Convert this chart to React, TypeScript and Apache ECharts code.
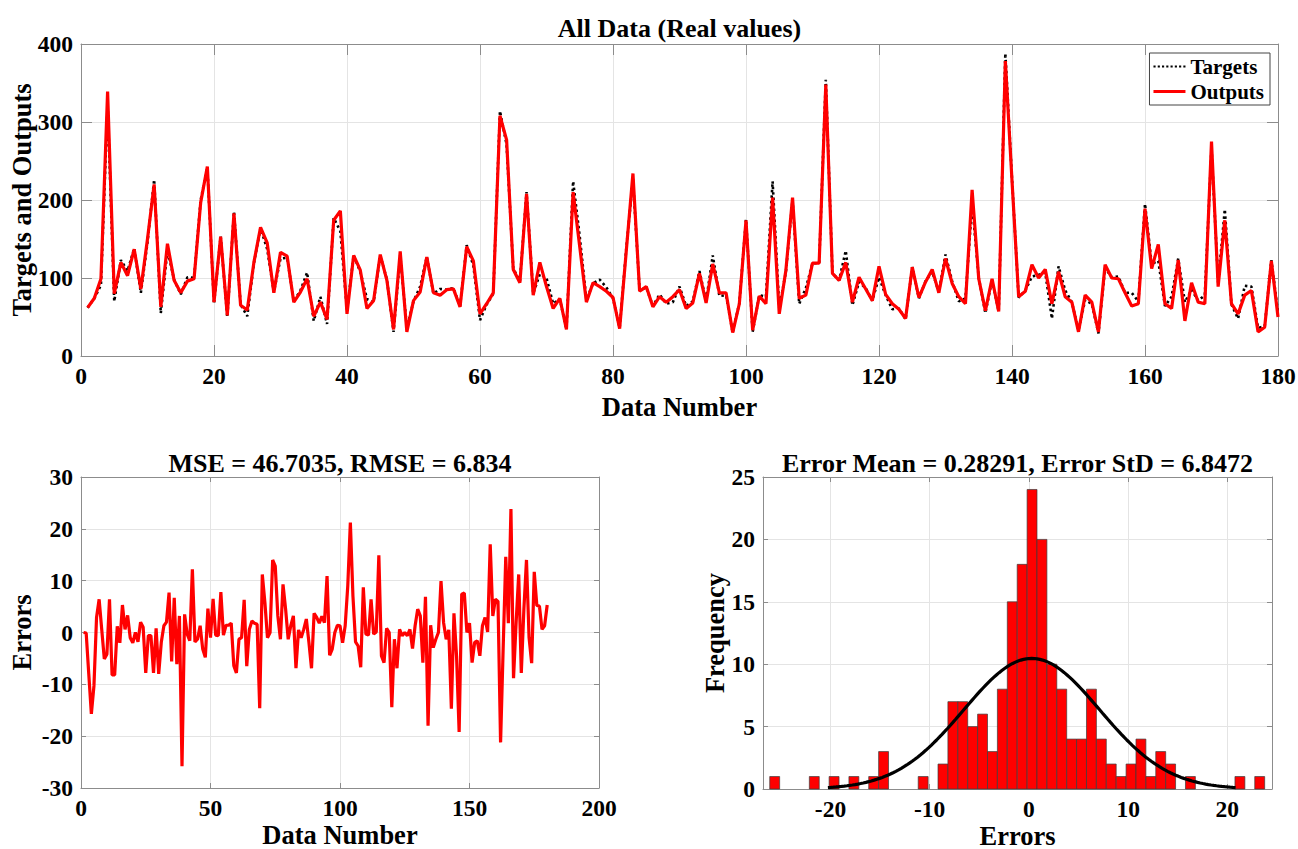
import React, { useEffect, useRef } from "react";
import * as echarts from "echarts";

// ---------- data ----------
const OUTPUTS = [
  62, 74, 99, 339, 80, 120, 103, 137, 86, 150,
  220, 63, 144, 97, 81, 96, 99, 197, 243, 69,
  153, 52, 183, 65, 59, 120, 165, 145, 81, 133,
  128, 69, 82, 99, 51, 69, 47, 174, 186, 54,
  129, 110, 61, 71, 130, 97, 34, 134, 31, 71,
  82, 127, 81, 78, 85, 86, 63, 140, 122, 54,
  67, 81, 308, 277, 111, 94, 208, 78, 120, 89,
  61, 74, 34, 210, 140, 69, 94, 89, 83, 75,
  35, 135, 234, 83, 89, 63, 76, 69, 76, 85,
  61, 68, 106, 68, 118, 81, 81, 30, 67, 174,
  33, 77, 67, 203, 54, 110, 203, 74, 78, 119,
  119, 348, 106, 97, 120, 69, 101, 86, 71, 115,
  79, 67, 60, 48, 114, 75, 95, 111, 81, 125,
  93, 76, 67, 213, 99, 58, 99, 57, 378, 225,
  76, 83, 117, 100, 111, 67, 108, 76, 69, 31,
  78, 69, 31, 117, 100, 99, 81, 64, 67, 189,
  112, 143, 67, 61, 123, 45, 94, 69, 67, 275,
  89, 174, 67, 54, 78, 84, 31, 37, 122, 50,
];

const TARGETS = [
  62, 74, 91, 323, 70, 123, 109, 138, 81, 146,
  226, 55, 136, 98, 79, 101, 100, 200, 242, 67,
  153, 50, 185, 66, 51, 119, 164, 137, 82, 125,
  126, 70, 84, 107, 45, 76, 41, 177, 160, 58,
  129, 108, 73, 69, 129, 98, 31, 129, 36, 70,
  89, 127, 80, 86, 85, 87, 64, 142, 116, 46,
  66, 80, 314, 271, 112, 96, 210, 80, 105, 100,
  67, 73, 34, 224, 153, 72, 93, 98, 88, 74,
  36, 138, 227, 84, 88, 64, 79, 67, 69, 89,
  64, 70, 109, 70, 129, 77, 78, 30, 68, 175,
  31, 78, 76, 224, 61, 108, 200, 67, 87, 119,
  119, 354, 106, 97, 135, 65, 95, 87, 71, 101,
  78, 60, 61, 47, 114, 74, 96, 108, 82, 130,
  96, 70, 74, 195, 100, 55, 98, 57, 388, 227,
  75, 84, 102, 104, 107, 48, 115, 84, 69, 33,
  72, 67, 29, 113, 101, 102, 81, 81, 70, 195,
  118, 122, 64, 76, 125, 69, 85, 71, 78, 267,
  94, 188, 66, 48, 90, 89, 36, 38, 123, 55,
];

const ERRORS = [
  0, -0.1, -8, -15.7, -10.3, 2.9, 6.4, 0.6, -5.1, -4.2,
  6.4, -8.2, -8.2, 1.2, -2, 5.3, 0.6, 3.3, -1, -2,
  0, -1.8, 2, 1, -7.8, -0.6, -0.6, -7.8, 0.8, -8,
  -1.9, 1.3, 2, 7.7, -5.6, 6.7, -6.1, 3.2, -25.8, 3.5,
  -0.3, -1.6, 12.2, -1.8, -1.3, 1.3, -3.2, -4.8, 4.6, -1,
  6.5, -0.5, -0.6, 7.8, -0.5, 1.4, 1.4, 1.8, -6.4, -7.8,
  -1.3, -1, 6.3, -6.5, 0.6, 2.2, 1.8, 1.6, -14.6, 11.2,
  5.8, -1, 0, 14, 12.8, 3.2, -1.3, 9.3, 4.5, -1.3,
  1.3, 3.2, -6.9, 0.5, -1, 0.6, 2.6, -1.9, -6.9, 3.7,
  2.9, 1.8, 3.1, 1.9, 10.9, -4.4, -3.2, 0, 1.4, 1.3,
  -2, 1.3, 9, 21.2, 7, -1.8, -2.6, -6.7, 8.7, -0.3,
  -0.5, 6.4, -0.3, 0.1, 14.9, -4.5, -5.8, 0.8, 0, -14.4,
  -1.3, -6.9, 0.6, -0.6, 0, -0.6, 0.6, -3.1, 1.3, 4.5,
  3.2, -5.8, 6.9, -18, 1.4, -2.9, -1.3, 0, 9.9, 1.9,
  -1.3, 0.5, -14.7, 3.7, -4.5, -19.2, 7.4, 7.6, 0, 1.8,
  -5.8, -1.9, -1.6, -4.5, 1.3, 2.9, 0.1, 17, 3.2, 6.4,
  6, -21.2, -3, 14.6, 1.8, 23.8, -8.8, 1.9, 11.2, -7.8,
  4.5, 14, -1, -5.9, 11.7, 5.2, 5.1, 0.6, 1.3, 5.3,
];

// histogram: 50 bins
const HIST_COUNTS = [
  1, 0, 0, 0, 1, 0, 1, 0, 1, 0,
  1, 3, 0, 0, 0, 1, 0, 2, 7, 7,
  5, 6, 3, 8, 15, 18, 24, 20, 10, 8,
  4, 4, 8, 4, 2, 1, 2, 4, 1, 3,
  2, 0, 1, 0, 0, 0, 0, 1, 0, 1,
];
const HIST_MIN = -26.12;
const BIN_WIDTH = 0.9976;
const ERR_MEAN = 0.28291;
const ERR_STD = 6.8472;

const HIST_X_TICKS = [-20, -10, 0, 10, 20];

const TITLE_TOP = "All Data (Real values)";
const TITLE_LEFT = "MSE = 46.7035, RMSE = 6.834";
const TITLE_RIGHT = "Error Mean = 0.28291, Error StD = 6.8472";

// ---------- styling ----------
const FONT = '"Liberation Serif", "Times New Roman", serif';
const AXIS_COLOR = "#8c8c8c";
const GRID_COLOR = "#e4e4e4";
const LABEL_COLOR = "#000000";
const TICK_FONT = 23.5;
const NAME_FONT = 26.5;
const TITLE_FONT = 26;

const G0 = { left: 81, top: 44, width: 1197, height: 312 };
const G1 = { left: 81, top: 477, width: 518, height: 311 };
const G2 = { left: 763, top: 477, width: 509, height: 312 };

const DOT_ICON =
  "path://M0,0h2v2h-2z M4,0h2v2h-2z M8,0h2v2h-2z M12,0h2v2h-2z M16,0h2v2h-2z M20,0h2v2h-2z M24,0h2v2h-2z M28,0h2v2h-2z";

function mainAxis(grid: number, pos: string, min: number, max: number, opts: any) {
  return {
    type: "value",
    gridIndex: grid,
    position: pos,
    min,
    max,
    interval: opts.interval,
    name: opts.name,
    nameLocation: "middle",
    nameGap: opts.nameGap,
    nameMoveOverlap: false,
    nameTextStyle: {
      fontFamily: FONT,
      fontWeight: "bold",
      fontSize: NAME_FONT,
      color: LABEL_COLOR,
    },
    axisLine: { show: true, onZero: false, lineStyle: { color: AXIS_COLOR, width: 1 } },
    axisTick: {
      show: true,
      inside: true,
      length: opts.tickLen,
      lineStyle: { color: AXIS_COLOR },
      customValues: opts.custom,
    },
    axisLabel: {
      show: true,
      fontFamily: FONT,
      fontWeight: "bold",
      fontSize: TICK_FONT,
      color: LABEL_COLOR,
      margin: 8,
      customValues: opts.custom,
    },
    splitLine: { show: true, lineStyle: { color: GRID_COLOR, width: 1 } },
  };
}

function mirrorAxis(grid: number, pos: string, min: number, max: number, opts: any) {
  return {
    type: "value",
    gridIndex: grid,
    position: pos,
    min,
    max,
    interval: opts.interval,
    axisLine: { show: true, onZero: false, lineStyle: { color: AXIS_COLOR, width: 1 } },
    axisTick: {
      show: true,
      inside: true,
      length: opts.tickLen,
      lineStyle: { color: AXIS_COLOR },
      customValues: opts.custom,
    },
    axisLabel: { show: false, customValues: opts.custom },
    splitLine: { show: false },
  };
}

export default function App() {
  const ref = useRef<HTMLDivElement>(null);

  useEffect(() => {
    document.body.style.margin = "0";
    if (!ref.current) return;
    const chart = echarts.init(ref.current, undefined, { renderer: "svg" });

    const n = ERRORS.length;
    const scale = (n * BIN_WIDTH) / (ERR_STD * Math.sqrt(2 * Math.PI));
    const gauss: number[][] = [];
    const lo = ERR_MEAN - 3 * ERR_STD;
    const steps = 150;
    for (let k = 0; k <= steps; k++) {
      const x = lo + (k * 6 * ERR_STD) / steps;
      const z = (x - ERR_MEAN) / ERR_STD;
      gauss.push([x, scale * Math.exp(-0.5 * z * z)]);
    }

    const titleText = (text: string, x: number, y: number) => ({
      type: "text",
      x,
      y,
      style: {
        text,
        fontFamily: FONT,
        fontWeight: "bold",
        fontSize: TITLE_FONT,
        fill: LABEL_COLOR,
        align: "center",
        verticalAlign: "middle",
      },
    });

    const gridBase = { containLabel: false, outerBoundsMode: "none" };

    const option: any = {
      animation: false,
      backgroundColor: "#ffffff",
      grid: [
        { ...G0, ...gridBase },
        { ...G1, ...gridBase },
        { ...G2, ...gridBase },
      ],
      graphic: [
        titleText(TITLE_TOP, G0.left + G0.width / 2, 28),
        titleText(TITLE_LEFT, G1.left + G1.width / 2, 463),
        titleText(TITLE_RIGHT, G2.left + G2.width / 2, 463),
      ],
      legend: {
        data: [
          { name: "Targets", icon: DOT_ICON, itemStyle: { color: "#000000" } },
          { name: "Outputs", icon: "rect", itemStyle: { color: "#ff0000" } },
        ],
        orient: "vertical",
        right: 28,
        top: 53,
        backgroundColor: "#ffffff",
        borderColor: "#444444",
        borderWidth: 1,
        borderRadius: 0,
        padding: [3, 6, 3, 4],
        itemGap: 4,
        itemWidth: 32,
        itemHeight: 3,
        textStyle: {
          fontFamily: FONT,
          fontWeight: "bold",
          fontSize: 21,
          color: LABEL_COLOR,
        },
      },
      xAxis: [
        mainAxis(0, "bottom", 0, 180, { interval: 20, name: "Data Number", nameGap: 37, tickLen: 11 }),
        mirrorAxis(0, "top", 0, 180, { interval: 20, tickLen: 11 }),
        mainAxis(1, "bottom", 0, 200, { interval: 50, name: "Data Number", nameGap: 33, tickLen: 5 }),
        mirrorAxis(1, "top", 0, 200, { interval: 50, tickLen: 5 }),
        mainAxis(2, "bottom", -26.8, 24.5, { custom: HIST_X_TICKS, name: "Errors", nameGap: 33, tickLen: 5 }),
        mirrorAxis(2, "top", -26.8, 24.5, { custom: HIST_X_TICKS, tickLen: 5 }),
      ],
      yAxis: [
        mainAxis(0, "left", 0, 400, { interval: 100, name: "Targets and Outputs", nameGap: 46, tickLen: 11 }),
        mirrorAxis(0, "right", 0, 400, { interval: 100, tickLen: 11 }),
        mainAxis(1, "left", -30, 30, { interval: 10, name: "Errors", nameGap: 46, tickLen: 5 }),
        mirrorAxis(1, "right", -30, 30, { interval: 10, tickLen: 5 }),
        mainAxis(2, "left", 0, 25, { interval: 5, name: "Frequency", nameGap: 35, tickLen: 5 }),
        mirrorAxis(2, "right", 0, 25, { interval: 5, tickLen: 5 }),
      ],
      series: [
        {
          name: "Targets",
          type: "line",
          xAxisIndex: 0,
          yAxisIndex: 0,
          symbol: "none",
          data: TARGETS.map((v, i) => [i + 1, v]),
          lineStyle: { color: "#000000", width: 2.6, type: [2.5, 3] },
          itemStyle: { color: "#000000" },
          z: 2,
        },
        {
          name: "Outputs",
          type: "line",
          xAxisIndex: 0,
          yAxisIndex: 0,
          symbol: "none",
          data: OUTPUTS.map((v, i) => [i + 1, v]),
          lineStyle: { color: "#ff0000", width: 3.2 },
          itemStyle: { color: "#ff0000" },
          z: 3,
        },
        {
          name: "Errors",
          type: "line",
          xAxisIndex: 2,
          yAxisIndex: 2,
          symbol: "none",
          data: ERRORS.map((v, i) => [i + 1, v]),
          lineStyle: { color: "#ff0000", width: 3.2 },
          itemStyle: { color: "#ff0000" },
        },
        {
          name: "Histogram",
          type: "custom",
          xAxisIndex: 4,
          yAxisIndex: 4,
          data: HIST_COUNTS.map((c, k) => [HIST_MIN + k * BIN_WIDTH, HIST_MIN + (k + 1) * BIN_WIDTH, c]),
          encode: { x: [0, 1], y: 2 },
          renderItem: (params: any, api: any) => {
            const c = api.value(2);
            if (!c) return null;
            const p0 = api.coord([api.value(0), c]);
            const p1 = api.coord([api.value(1), 0]);
            return {
              type: "rect",
              shape: { x: p0[0], y: p0[1], width: p1[0] - p0[0], height: p1[1] - p0[1] },
              style: { fill: "#ff0000", stroke: "#3c3c3c", lineWidth: 0.7 },
            };
          },
          z: 2,
        },
        {
          name: "Normal",
          type: "line",
          xAxisIndex: 4,
          yAxisIndex: 4,
          symbol: "none",
          data: gauss,
          lineStyle: { color: "#000000", width: 3.2 },
          itemStyle: { color: "#000000" },
          z: 4,
        },
      ],
    };

    chart.setOption(option);
    return () => {
      chart.dispose();
    };
  }, []);

  return <div ref={ref} style={{ width: 1298, height: 849 }} />;
}
